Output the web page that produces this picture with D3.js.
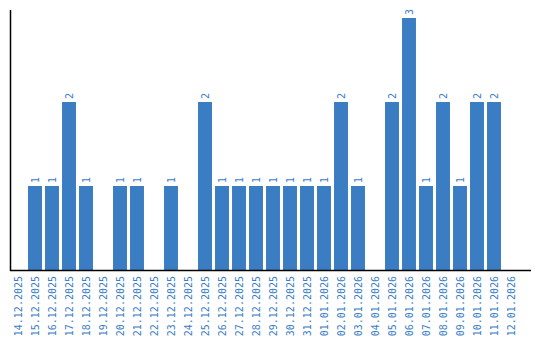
<!DOCTYPE html>
<html>
<head>
<meta charset="utf-8">
<script src="https://cdn.jsdelivr.net/npm/d3@7"></script>
<style>
  body { margin: 0; background: #fff; }
  text { font-family: "DejaVu Sans Mono", monospace; }
</style>
</head>
<body>
<div id="chart"></div>
<script>
var dates = ["14.12.2025", "15.12.2025", "16.12.2025", "17.12.2025", "18.12.2025",
  "19.12.2025", "20.12.2025", "21.12.2025", "22.12.2025", "23.12.2025",
  "24.12.2025", "25.12.2025", "26.12.2025", "27.12.2025", "28.12.2025",
  "29.12.2025", "30.12.2025", "31.12.2025", "01.01.2026", "02.01.2026",
  "03.01.2026", "04.01.2026", "05.01.2026", "06.01.2026", "07.01.2026",
  "08.01.2026", "09.01.2026", "10.01.2026", "11.01.2026", "12.01.2026"];
var counts = [0, 1, 1, 2, 1, 0, 1, 1, 0, 1,
  0, 2, 1, 1, 1, 1, 1, 1, 1, 2,
  1, 0, 2, 3, 1, 2, 1, 2, 2, 0];

var width = 540, height = 340;
var blue = "#3a7dc3";
var base_y = 270, top_y = 10;

var svg = d3.select("#chart")
    .append("svg")
    .attr("width", width)
    .attr("height", height);

var x = d3.scaleBand()
    .domain(dates)
    .range([9.5, 519.5])
    .paddingInner(0.18)
    .paddingOuter(0.09);

// 1 unit is 84px, top of axis a bit above 3
var y = d3.scaleLinear()
    .domain([0, (base_y - top_y) / 84])
    .range([base_y, top_y]);

svg.selectAll("rect.bar")
    .data(counts)
    .enter()
    .append("rect")
    .attr("class", "bar")
    .attr("x", function(d, i) { return x(dates[i]); })
    .attr("y", function(d) { return y(d); })
    .attr("width", x.bandwidth())
    .attr("height", function(d) { return base_y - y(d); })
    .style("fill", blue);

// value labels, only for days with something
counts.forEach(function(d, i) {
    if (d <= 0) return;
    svg.append("text")
        .attr("class", "val")
        .attr("transform", "translate(" + (x(dates[i]) + x.bandwidth() / 2 + 3.5) + "," + (y(d) - 3) + ") rotate(-90)")
        .style("font-size", "10px")
        .style("fill", blue)
        .text(d);
});

// x axis
var x_axis = svg.append("g")
    .attr("transform", "translate(0," + base_y + ")")
    .call(d3.axisBottom(x).tickSize(0).tickPadding(6));
x_axis.select(".domain").remove();
x_axis.append("line")
    .attr("x1", 10).attr("x2", 531)
    .attr("y1", 0.5).attr("y2", 0.5)
    .attr("stroke", "#000").attr("stroke-width", 1.5);
x_axis.selectAll(".tick text")
    .attr("transform", "rotate(-90)")
    .attr("x", -6)
    .attr("y", 0)
    .attr("dy", "0.35em")
    .style("text-anchor", "end")
    .style("font-size", "10px")
    .style("font-family", "DejaVu Sans Mono, monospace")
    .style("fill", blue);

// y axis line
svg.append("line")
    .attr("x1", 10.5).attr("x2", 10.5)
    .attr("y1", top_y).attr("y2", base_y + 1)
    .attr("stroke", "#000").attr("stroke-width", 1.5);
</script>
</body>
</html>
